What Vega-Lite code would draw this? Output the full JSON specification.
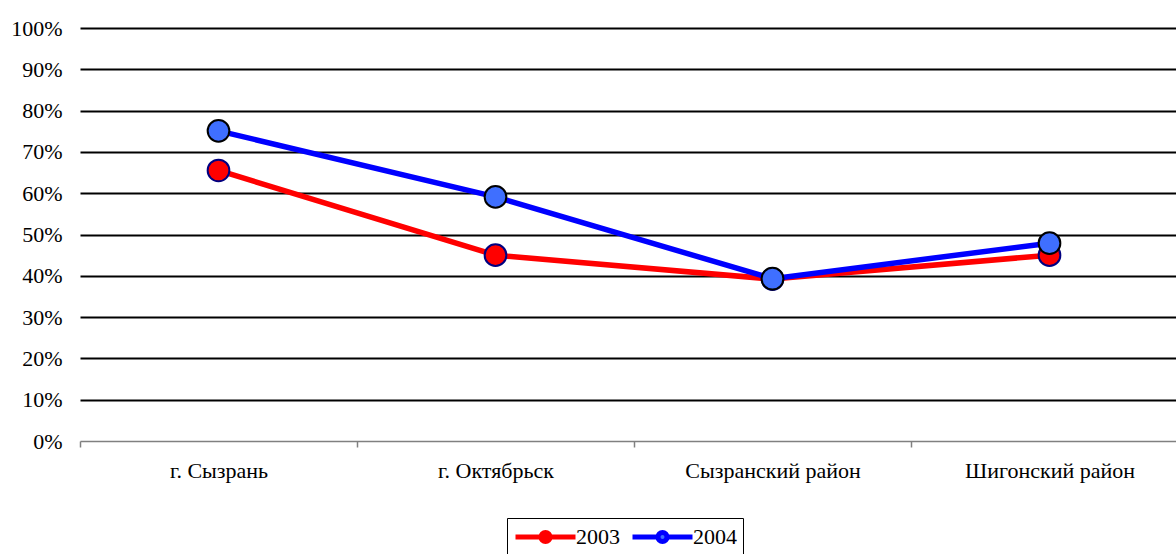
{
  "$schema": "https://vega.github.io/schema/vega-lite/v6.json",
  "width": 1108,
  "height": 413,
  "autosize": "none",
  "padding": {"left": 80, "top": 28, "right": 0, "bottom": 113},
  "background": "white",
  "config": {
    "view": {"stroke": null},
    "font": "Liberation Serif",
    "legend": {
      "orient": "none",
      "legendX": 427,
      "legendY": 490,
      "direction": "horizontal",
      "title": null,
      "labelFont": "Liberation Serif",
      "labelFontSize": 22,
      "labelColor": "black",
      "strokeColor": "black",
      "padding": 6,
      "columnPadding": 2,
      "labelOffset": 38,
      "symbolType": "M-1,0L1.45,0M2.55,0L5,0M2.45,0A0.45,0.45 0 1,1 1.55,0A0.45,0.45 0 1,1 2.45,0Z",
      "symbolSize": 400,
      "symbolStrokeWidth": 5
    }
  },
  "data": {
    "values": [
      {"place": "г. Сызрань", "year": "2003", "value": 0.655},
      {"place": "г. Октябрьск", "year": "2003", "value": 0.45},
      {"place": "Сызранский район", "year": "2003", "value": 0.392},
      {"place": "Шигонский район", "year": "2003", "value": 0.45},
      {"place": "г. Сызрань", "year": "2004", "value": 0.751},
      {"place": "г. Октябрьск", "year": "2004", "value": 0.591},
      {"place": "Сызранский район", "year": "2004", "value": 0.393},
      {"place": "Шигонский район", "year": "2004", "value": 0.479}
    ]
  },
  "encoding": {
    "x": {
      "field": "place",
      "type": "nominal",
      "sort": null,
      "scale": {"paddingInner": 0, "paddingOuter": 0},
      "axis": {
        "title": null,
        "labelAngle": 0,
        "labelFont": "Liberation Serif",
        "labelFontSize": 22,
        "labelColor": "black",
        "domainColor": "#808080",
        "domainWidth": 1.5,
        "tickColor": "#808080",
        "tickWidth": 1.5,
        "tickSize": 6,
        "tickBand": "extent",
        "labelPadding": 13,
        "grid": false
      }
    },
    "y": {
      "field": "value",
      "type": "quantitative",
      "scale": {"domain": [0, 1], "nice": false},
      "axis": {
        "title": null,
        "format": ".0%",
        "values": [0, 0.1, 0.2, 0.3, 0.4, 0.5, 0.6, 0.7, 0.8, 0.9, 1],
        "labelFont": "Liberation Serif",
        "labelFontSize": 22,
        "labelColor": "black",
        "domain": false,
        "ticks": false,
        "tickSize": 0,
        "labelPadding": 18,
        "grid": true,
        "gridColor": {"condition": {"test": "datum.value === 0", "value": "transparent"}, "value": "black"},
        "gridWidth": 2
      }
    }
  },
  "layer": [
    {
      "mark": {"type": "line", "strokeWidth": 5.5},
      "encoding": {
        "color": {
          "field": "year",
          "type": "nominal",
          "scale": {"domain": ["2003", "2004"], "range": ["#ff0000", "#0000ff"]}
        }
      }
    },
    {
      "mark": {"type": "point", "filled": true, "size": 470, "strokeWidth": 2, "opacity": 1},
      "encoding": {
        "fill": {
          "field": "year",
          "type": "nominal",
          "scale": {"domain": ["2003", "2004"], "range": ["#ff0000", "#3f6fff"]}
        },
        "stroke": {
          "condition": {"test": "datum.year === '2003'", "value": "#000080"},
          "value": "black"
        }
      }
    }
  ]
}
